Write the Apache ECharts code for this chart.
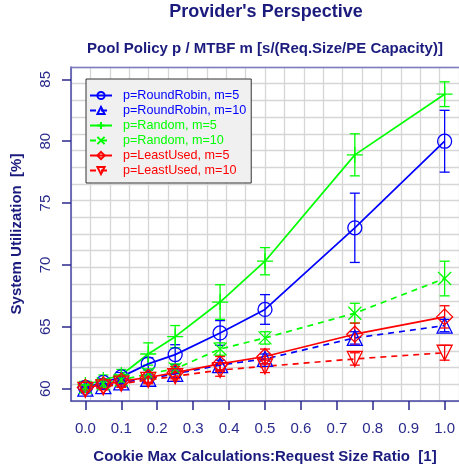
<!DOCTYPE html>
<html><head><meta charset="utf-8">
<script src="https://cdn.jsdelivr.net/npm/echarts@6/dist/echarts.min.js"></script>
<style>html,body{margin:0;padding:0;background:#fff}#c{width:459px;height:470px}</style>
</head><body><div id="c"></div>
<script>
const xValues = [0, 0.05, 0.1, 0.175, 0.25, 0.375, 0.5, 0.75, 1.0];
const rr5  = [60.1, 60.5, 60.95, 62.0, 62.75, 64.5, 66.4, 73.0, 80.0];
const rr10 = [60.0, 60.2, 60.5, 60.8, 61.2, 61.9, 62.4, 64.1, 65.1];
const rnd5 = [60.3, 60.7, 61.1, 62.8, 64.2, 67.0, 70.3, 78.9, 83.8];
const rnd10= [60.1, 60.4, 60.7, 61.2, 61.6, 63.2, 64.1, 66.1, 68.9];
const lu5  = [60.1, 60.3, 60.6, 60.9, 61.3, 62.0, 62.6, 64.4, 65.8];
const lu10 = [59.9, 60.1, 60.4, 60.7, 61.0, 61.5, 61.8, 62.4, 62.9];
const rr5Err  = [0.2, 0.3, 0.35, 0.5, 0.8, 1.0, 1.2, 2.8, 2.5];
const rr10Err = [0.2, 0.2, 0.3, 0.3, 0.3, 0.4, 0.4, 0.5, 0.5];
const rnd5Err = [0.3, 0.4, 0.45, 0.9, 0.9, 1.4, 1.1, 1.7, 1.0];
const rnd10Err= [0.2, 0.3, 0.3, 0.4, 0.4, 0.5, 0.5, 0.8, 1.4];
const lu5Err  = [0.2, 0.3, 0.3, 0.4, 0.5, 0.6, 0.6, 0.9, 0.9];
const lu10Err = [0.2, 0.2, 0.3, 0.3, 0.4, 0.5, 0.5, 0.5, 0.6];
const xTicks = [0, 0.1, 0.2, 0.3, 0.4, 0.5, 0.6, 0.7, 0.8, 0.9, 1.0];
const yTicks = [60, 65, 70, 75, 80, 85];
const seriesNames = ['p=RoundRobin, m=5','p=RoundRobin, m=10','p=Random, m=5','p=Random, m=10','p=LeastUsed, m=5','p=LeastUsed, m=10'];

const BLUE='#0000ff', GREEN='#00ff00', RED='#ff0000';
const NAVY='#1b1b7e';
const PLUS='path://M5,0L5,10M0,5L10,5';
const CROSS='path://M0,0L10,10M0,10L10,0';

const defs = [
  {name: seriesNames[0], y: rr5, e: rr5Err, color: BLUE, dash: 'solid', symbol: 'circle', size: 14, rot: 0},
  {name: seriesNames[1], y: rr10, e: rr10Err, color: BLUE, dash: 'dashed', symbol: 'triangle', size: 15, rot: 0},
  {name: seriesNames[2], y: rnd5, e: rnd5Err, color: GREEN, dash: 'solid', symbol: PLUS, size: 16, rot: 0},
  {name: seriesNames[3], y: rnd10, e: rnd10Err, color: GREEN, dash: 'dashed', symbol: CROSS, size: 13, rot: 0},
  {name: seriesNames[4], y: lu5, e: lu5Err, color: RED, dash: 'solid', symbol: 'diamond', size: 16, rot: 0},
  {name: seriesNames[5], y: lu10, e: lu10Err, color: RED, dash: 'dashed', symbol: 'triangle', size: 15, rot: 180}
];

const series = [];
defs.forEach((d, i) => {
  series.push({
    name: d.name + ' err', type: 'custom', xAxisIndex: 0, yAxisIndex: 0, z: 3,
    data: xValues.map((x, k) => [x, d.y[k] - d.e[k], d.y[k] + d.e[k]]),
    renderItem: function (params, api) {
      const lo = api.coord([api.value(0), api.value(1)]);
      const hi = api.coord([api.value(0), api.value(2)]);
      const w = 5;
      const st = {stroke: d.color, lineWidth: 1.3, fill: null};
      return {type: 'group', children: [
        {type: 'line', shape: {x1: lo[0], y1: lo[1], x2: hi[0], y2: hi[1]}, style: st},
        {type: 'line', shape: {x1: lo[0]-w, y1: lo[1], x2: lo[0]+w, y2: lo[1]}, style: st},
        {type: 'line', shape: {x1: hi[0]-w, y1: hi[1], x2: hi[0]+w, y2: hi[1]}, style: st}
      ]};
    },
    silent: true, animation: false
  });
  series.push({
    name: d.name, type: 'line', xAxisIndex: 0, yAxisIndex: 0, z: 4,
    data: xValues.map((x, k) => [x, d.y[k]]),
    symbol: d.symbol, symbolSize: d.size, symbolRotate: d.rot, symbolKeepAspect: true,
    showAllSymbol: true,
    itemStyle: {color: 'rgba(0,0,0,0)', borderColor: d.color, borderWidth: 1.3},
    lineStyle: {color: d.color, width: 1.7, type: d.dash === 'dashed' ? [6, 5] : 'solid'},
    animation: false
  });
});

const chart = echarts.init(document.getElementById('c'), null, {renderer: 'canvas'});
chart.setOption({
  backgroundColor: '#ffffff',
  animation: false,
  title: [
    {text: "Provider's Perspective", left: 266, top: 3, textAlign: 'center', padding: 0,
     textStyle: {fontFamily: 'Liberation Sans', fontWeight: 'bold', fontSize: 18, color: NAVY}},
    {text: 'Pool Policy p / MTBF m [s/(Req.Size/PE Capacity)]', left: 265, top: 41, textAlign: 'center', padding: 0,
     textStyle: {fontFamily: 'Liberation Sans', fontWeight: 'bold', fontSize: 15, color: NAVY}}
  ],
  legend: {
    data: defs.map(d => ({name: d.name, textStyle: {color: d.color}})),
    orient: 'vertical', left: 86, top: 79,
    backgroundColor: '#f0f0f0', borderColor: '#333333', borderWidth: 1,
    padding: [10, 5, 6, 3], itemGap: 2, itemWidth: 22, itemHeight: 9,
    textStyle: {fontFamily: 'Liberation Sans', fontSize: 12.6, lineHeight: 13, padding: [0, 0, 0, 6]},
    selectedMode: false
  },
  grid: {left: 71, top: 67, width: 390, height: 334, containLabel: false},
  xAxis: [
    {type: 'value', min: -0.04, max: 1.04, position: 'bottom',
     name: 'Cookie Max Calculations:Request Size Ratio  [1]', nameLocation: 'middle', nameGap: 48,
     nameTextStyle: {fontFamily: 'Liberation Sans', fontWeight: 'bold', fontSize: 15, color: NAVY},
     axisLine: {show: true, onZero: false, lineStyle: {color: '#4646a6', width: 1.5}},
     axisTick: {show: true, inside: false, length: 9, customValues: xTicks, lineStyle: {color: '#2a2a8c', width: 1.5}},
     axisLabel: {show: true, margin: 20, customValues: xTicks, formatter: v => v.toFixed(1),
       fontFamily: 'Liberation Sans', fontSize: 15, color: '#2a2a8c'},
     splitLine: {show: false}},
    {type: 'value', min: 0, max: 20, interval: 1, position: 'top',
     axisLine: {show: true, onZero: false, lineStyle: {color: '#7c7cc4', width: 1.3}},
     axisTick: {show: false}, axisLabel: {show: false},
     splitLine: {show: true, lineStyle: {color: '#d6d6d6', width: 1.3}}}
  ],
  yAxis: [
    {type: 'value', min: 59, max: 86, position: 'left',
     name: 'System Utilization  [%]', nameLocation: 'middle', nameGap: 47, nameRotate: 90,
     nameTextStyle: {fontFamily: 'Liberation Sans', fontWeight: 'bold', fontSize: 15, color: NAVY},
     axisLine: {show: true, onZero: false, lineStyle: {color: '#4646a6', width: 1.5}},
     axisTick: {show: true, inside: false, length: 9, customValues: yTicks, lineStyle: {color: '#2a2a8c', width: 1.5}},
     axisLabel: {show: true, margin: 18, rotate: 90, customValues: yTicks,
       fontFamily: 'Liberation Sans', fontSize: 15, color: '#2a2a8c'},
     splitLine: {show: false}},
    {type: 'value', min: 0, max: 20, interval: 1, position: 'right',
     axisLine: {show: false}, axisTick: {show: false}, axisLabel: {show: false},
     splitLine: {show: true, lineStyle: {color: '#d6d6d6', width: 1.3}}}
  ],
  series: series
});
</script>
</body></html>
